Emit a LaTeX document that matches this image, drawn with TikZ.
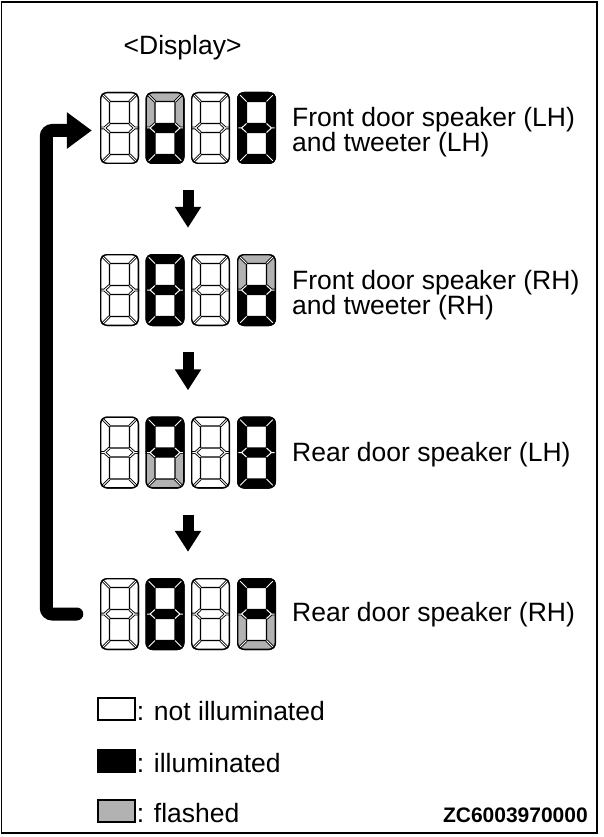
\documentclass[tikz,border=0pt]{standalone}
\usepackage{fontspec}
\setmainfont{Liberation Sans}
\usetikzlibrary{arrows.meta}

% one seven-segment digit: position, then segments a b c d e f g
\newcommand{\sevenseg}[8]{%
  \begin{scope}[shift={(#1)}]
    \clip[rounded corners=7pt] (0,0) rectangle (39,72);
    \path[seg,#2] (0,0) -- (39,0) -- (29.5,9.5) -- (9.5,9.5) -- cycle;
    \path[seg,#3] (39,0) -- (39,36) -- (34.5,36) -- (29.5,31.5) -- (29.5,9.5) -- cycle;
    \path[seg,#4] (39,36) -- (39,72) -- (29.5,62.5) -- (29.5,40.5) -- (34.5,36) -- cycle;
    \path[seg,#5] (0,72) -- (9.5,62.5) -- (29.5,62.5) -- (39,72) -- cycle;
    \path[seg,#6] (0,36) -- (4.5,36) -- (9.5,40.5) -- (9.5,62.5) -- (0,72) -- cycle;
    \path[seg,#7] (0,0) -- (9.5,9.5) -- (9.5,31.5) -- (4.5,36) -- (0,36) -- cycle;
    \path[seg,#8] (4.5,36) -- (9.5,31.5) -- (29.5,31.5) -- (34.5,36) -- (29.5,40.5) -- (9.5,40.5) -- cycle;
    \foreach \w/\c in {2.8pt/black,1pt/white}
      \draw[line width=\w,\c] (0,0) -- (9.5,9.5) (39,0) -- (29.5,9.5)
        (9.5,31.5) -- (4.5,36) -- (9.5,40.5) (0,36) -- (4.5,36)
        (29.5,31.5) -- (34.5,36) -- (29.5,40.5) (34.5,36) -- (39,36)
        (0,72) -- (9.5,62.5) (39,72) -- (29.5,62.5);
    \draw[line width=2.8pt,rounded corners=7pt] (0,0) rectangle (39,72);
  \end{scope}}

\begin{document}
\begin{tikzpicture}[x=1pt,y=-1pt,
    seg/.style={draw=black,line width=1.4pt,line join=round},
    segoff/.style={fill=white},
    segon/.style={fill=black},
    segfl/.style={fill=black!30},
    disp/.style={minimum width=176pt,minimum height=72pt,inner sep=0pt},
    lbl/.style={font=\fontsize{26.5}{22}\selectfont,inner sep=0pt,align=left},
    keybox/.style={draw=black,line width=1.2pt,minimum width=37pt,minimum height=22pt,inner sep=0pt},
    downarrow/.style={line width=11pt,-{Triangle[width=25pt,length=21pt]},
      shorten <=26pt,shorten >=26pt},
    loopback/.style={line width=13pt,line cap=round,rounded corners=6pt,
      -{Triangle[width=35pt,length=25pt]},shorten <=23pt,shorten >=8pt}]
  \useasboundingbox (0,0) rectangle (603,837);
  \draw[line width=1.5pt] (1.5,2) rectangle (597,833);

  \node[lbl,anchor=base west] (title) at (123.5,55) {<Display>};

  % digits 1 and 3 are never lit
  \foreach \y in {92,254,416.5,578} {
    \sevenseg{100,\y}{segoff}{segoff}{segoff}{segoff}{segoff}{segoff}{segoff}
    \sevenseg{191,\y}{segoff}{segoff}{segoff}{segoff}{segoff}{segoff}{segoff}
  }
  \sevenseg{145.5,92}{segfl}{segfl}{segon}{segon}{segon}{segfl}{segon}
  \sevenseg{237,92}{segon}{segon}{segon}{segon}{segon}{segon}{segon}
  \sevenseg{145.5,254}{segon}{segon}{segon}{segon}{segon}{segon}{segon}
  \sevenseg{237,254}{segfl}{segfl}{segon}{segon}{segon}{segfl}{segon}
  \sevenseg{145.5,416.5}{segon}{segon}{segfl}{segfl}{segfl}{segon}{segon}
  \sevenseg{237,416.5}{segon}{segon}{segon}{segon}{segon}{segon}{segon}
  \sevenseg{145.5,578}{segon}{segon}{segon}{segon}{segon}{segon}{segon}
  \sevenseg{237,578}{segon}{segon}{segfl}{segfl}{segfl}{segon}{segon}

  \node[disp] (row1) at (188,128) {};
  \node[disp] (row2) at (188,290) {};
  \node[disp] (row3) at (188,452.5) {};
  \node[disp] (row4) at (188,614) {};

  \node[lbl,anchor=west] (lh) at (292,132) {Front door speaker (LH)\\and tweeter (LH)};
  \node[lbl,anchor=west] (rh) at (292,295) {Front door speaker (RH)\\and tweeter (RH)};
  \node[lbl,anchor=west] (rearlh) at (292,455) {Rear door speaker (LH)};
  \node[lbl,anchor=west] (rearrh) at (292,615) {Rear door speaker (RH)};

  \draw[downarrow] (row1.south) -- (row2.north);
  \draw[downarrow] (row2.south) -- (row3.north);
  \draw[downarrow] (row3.south) -- (row4.north);
  \draw[loopback] (row4.west) -- ++(-53.5,0) |- ([yshift=-2.5pt]row1.west);

  % legend
  \node[keybox,fill=white] (k1) at (116.5,709) {};
  \node[keybox,fill=black] (k2) at (116.5,761) {};
  \node[keybox,fill=black!30] (k3) at (116.5,811) {};
  \node[lbl,anchor=base west] (n1) at ([xshift=1pt]k1.south east) {: not illuminated};
  \node[lbl,anchor=base west] (n2) at ([xshift=1pt]k2.south east) {: illuminated};
  \node[lbl,anchor=base west] (n3) at ([xshift=1pt]k3.south east) {: flashed};

  \node[inner sep=0pt,anchor=base east,font=\fontsize{21}{21}\selectfont\bfseries] (code) at (588,822) {ZC6003970000};
\end{tikzpicture}
\end{document}
